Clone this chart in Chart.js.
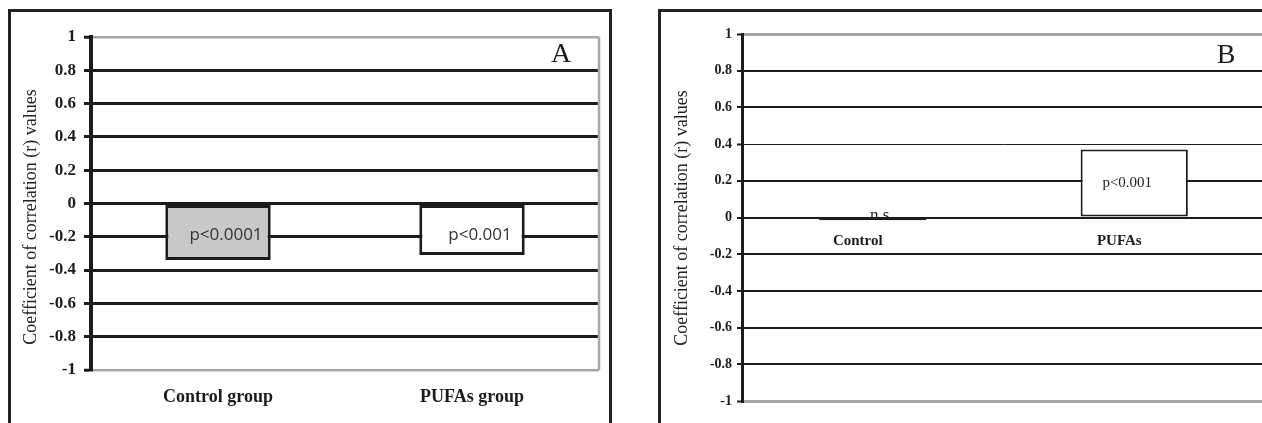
<!DOCTYPE html>
<html>
<head>
<meta charset="utf-8">
<script src="https://cdn.jsdelivr.net/npm/chart.js@4.4.1/dist/chart.umd.min.js"></script>
<style>
  html, body { margin: 0; padding: 0; background: #fff; overflow: hidden; width: 1262px; height: 423px; }
  .frame { position: absolute; box-sizing: border-box; border: 3px solid #222; border-bottom: none; }
  #frameA { left: 8px; top: 9px; width: 604px; height: 440px; }
  #frameB { left: 658px; top: 9px; width: 700px; height: 440px; border-right: none; }
  canvas { position: absolute; top: 0; }
  #chartA { left: 0; }
  #chartB { left: 640px; }
</style>
</head>
<body>
<div class="frame" id="frameA"></div>
<div class="frame" id="frameB"></div>
<canvas id="chartA" width="640" height="423"></canvas>
<canvas id="chartB" width="640" height="423"></canvas>
<script>
// Shared value axis
const yTickValues = [-1, -0.8, -0.6, -0.4, -0.2, 0, 0.2, 0.4, 0.6, 0.8, 1];
const yTickLabels = ['-1', '-0.8', '-0.6', '-0.4', '-0.2', '0', '0.2', '0.4', '0.6', '0.8', '1'];
const yAxisTitle = 'Coefficient of correlation (r) values';

// Panel A
const groupsA = ['Control group', 'PUFAs group'];
const rValuesA = [-0.34, -0.31];
const pLabelsA = ['p<0.0001', 'p<0.001'];

// Panel B
const groupsB = ['Control', 'PUFAs'];
const rValuesB = [-0.015, 0.37];
const pLabelsB = ['n.s', 'p<0.001'];

const SERIF = '"Liberation Serif", "Times New Roman", serif';
const INK = '#1c1c1c';
const EDGE_GRAY = '#a6a6a6';

const isEdge = c => c.tick && Math.abs(c.tick.value) === 1;

function yScale(opts) {
  return {
    min: -1,
    max: 1,
    afterBuildTicks: s => { s.ticks = yTickValues.map(v => ({ value: v })); },
    afterFit: s => { s.width = opts.width; },
    ticks: {
      callback: (v, i) => yTickLabels[i],
      font: { family: SERIF, size: opts.tickSize, weight: 'bold' },
      color: INK,
      padding: opts.tickPad
    },
    grid: {
      color: c => isEdge(c) ? EDGE_GRAY : INK,
      lineWidth: opts.gridWidth,
      tickColor: INK,
      tickLength: opts.tickLength,
      tickWidth: opts.tickWidth,
      drawTicks: true
    },
    border: { color: INK, width: opts.axisWidth }
  };
}

// Letter, rotated axis title, right plot edge and bar texts
function decor(s) {
  return {
    id: 'decor',
    beforeDatasetsDraw(chart) {
      if (s.under) s.under(chart);
    },
    afterDatasetsDraw(chart) {
      const { ctx, chartArea } = chart;
      ctx.save();
      if (s.rightEdge) {
        ctx.strokeStyle = EDGE_GRAY;
        ctx.lineWidth = 2.5;
        ctx.beginPath();
        ctx.moveTo(chartArea.right, chartArea.top);
        ctx.lineTo(chartArea.right, chartArea.bottom);
        ctx.stroke();
      }
      ctx.fillStyle = INK;
      ctx.textAlign = 'center';
      ctx.textBaseline = 'middle';
      ctx.font = '28px ' + SERIF;
      ctx.fillText(s.letter, s.letterX, s.letterY);
      ctx.translate(s.titleX, s.titleY);
      ctx.rotate(-Math.PI / 2);
      ctx.font = '18px ' + SERIF;
      ctx.fillStyle = '#222';
      ctx.fillText(yAxisTitle, 0, 0);
      ctx.restore();
      if (s.over) s.over(chart);
    }
  };
}

// Panel A: correlation in each group
new Chart(document.getElementById('chartA'), {
  type: 'bar',
  data: {
    labels: groupsA,
    datasets: [{
      data: rValuesA,
      backgroundColor: ['#c8c8c8', '#ffffff'],
      borderColor: INK,
      borderWidth: 3,
      borderSkipped: false,
      categoryPercentage: 1,
      barPercentage: 0.415
    }]
  },
  options: {
    responsive: false,
    devicePixelRatio: 1,
    animation: false,
    layout: { padding: { left: 0, top: 37, right: 41, bottom: 0 } },
    plugins: { legend: { display: false }, tooltip: { enabled: false } },
    scales: {
      x: {
        afterFit: s => { s.height = 53; },
        grid: { display: false, drawTicks: false },
        border: { display: false },
        ticks: { font: { family: SERIF, size: 18, weight: 'bold' }, color: INK, padding: 17 }
      },
      y: yScale({
        width: 91, tickSize: 17, tickPad: 8, tickLength: 7, tickWidth: 3, axisWidth: 4,
        gridWidth: c => isEdge(c) ? 2.5 : 3
      })
    }
  },
  plugins: [decor({
    rightEdge: true,
    letter: 'A', letterX: 561, letterY: 55,
    titleX: 31, titleY: 217,
    over(chart) {
      const { ctx } = chart;
      const y = chart.scales.y;
      const bars = chart.getDatasetMeta(0).data;
      ctx.save();
      ctx.font = '17px "Open Sans", sans-serif';
      ctx.fillStyle = '#333';
      ctx.textAlign = 'center';
      ctx.textBaseline = 'middle';
      bars.forEach((bar, i) => {
        ctx.fillText(pLabelsA[i], bar.x + 8, y.getPixelForValue(-0.19));
      });
      ctx.restore();
    }
  })]
});

// Panel B: correlation in each group
new Chart(document.getElementById('chartB'), {
  type: 'bar',
  data: {
    labels: groupsB,
    datasets: [{
      data: rValuesB,
      backgroundColor: '#ffffff',
      borderColor: INK,
      borderWidth: 2,
      borderSkipped: false,
      categoryPercentage: 1,
      barPercentage: 0.41
    }]
  },
  options: {
    responsive: false,
    devicePixelRatio: 1,
    animation: false,
    layout: { padding: { left: 0, top: 34, right: 15, bottom: 22 } },
    plugins: { legend: { display: false }, tooltip: { enabled: false } },
    scales: {
      x: {
        position: { y: 0 },
        grid: { display: false, drawTicks: false },
        border: { display: false },
        ticks: {
          font: { family: SERIF, size: 15, weight: 'bold' },
          color: INK,
          padding: 15,
          labelOffset: -15
        }
      },
      y: yScale({
        width: 102, tickSize: 14, tickPad: 5, tickLength: 5, tickWidth: 2, axisWidth: 3,
        gridWidth: c => isEdge(c) ? 3 : (c.tick && Math.abs(c.tick.value - 0.4) < 1e-9 ? 1 : 2)
      })
    }
  },
  plugins: [decor({
    rightEdge: false,
    letter: 'B', letterX: 586, letterY: 56,
    titleX: 42, titleY: 218,
    under(chart) {
      // "n.s" sits on the zero line and is partly covered by the bar
      const { ctx } = chart;
      const bar = chart.getDatasetMeta(0).data[0];
      ctx.save();
      ctx.font = '17px ' + SERIF;
      ctx.fillStyle = '#222';
      ctx.textAlign = 'center';
      ctx.textBaseline = 'alphabetic';
      ctx.fillText(pLabelsB[0], bar.x + 7, chart.scales.y.getPixelForValue(0) + 2);
      ctx.restore();
    },
    over(chart) {
      const { ctx } = chart;
      const bar = chart.getDatasetMeta(0).data[1];
      ctx.save();
      ctx.font = '15px ' + SERIF;
      ctx.fillStyle = '#222';
      ctx.textAlign = 'center';
      ctx.textBaseline = 'middle';
      ctx.fillText(pLabelsB[1], bar.x - 7, (bar.y + bar.base) / 2);
      ctx.restore();
    }
  })]
});
</script>
</body>
</html>
